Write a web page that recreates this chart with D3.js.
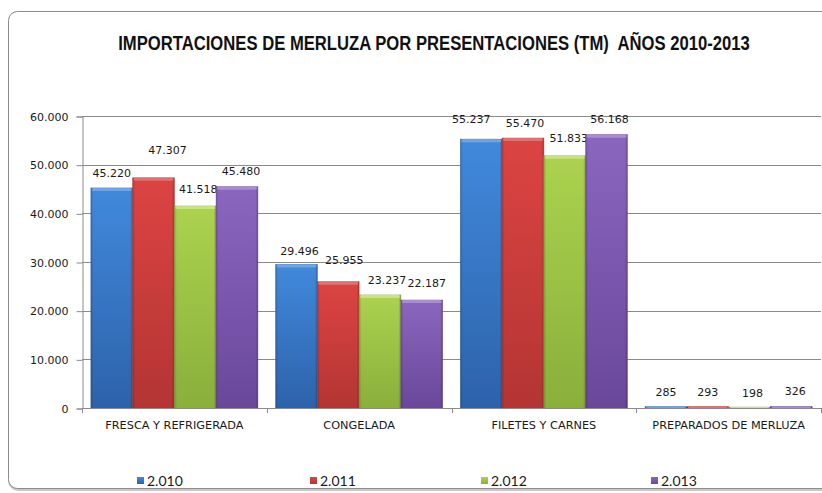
<!DOCTYPE html>
<html>
<head>
<meta charset="utf-8">
<script src="https://cdn.jsdelivr.net/npm/d3@7"></script>
<style>
  body { margin: 0; background: #fff; }
  svg { display: block; }
</style>
</head>
<body>
<svg id="chart" width="822" height="493"></svg>
<script>
let categories = ['FRESCA Y REFRIGERADA', 'CONGELADA', 'FILETES Y CARNES', 'PREPARADOS DE MERLUZA'];
let years = ['2.010', '2.011', '2.012', '2.013'];
let v2010 = [45220, 29496, 55237, 285];
let v2011 = [47307, 25955, 55470, 293];
let v2012 = [41518, 23237, 51833, 198];
let v2013 = [45480, 22187, 56168, 326];
let yTicks = [0, 10000, 20000, 30000, 40000, 50000, 60000];
let yTickLabels = ['0', '10.000', '20.000', '30.000', '40.000', '50.000', '60.000'];
let title = 'IMPORTACIONES DE MERLUZA POR PRESENTACIONES (TM)  AÑOS 2010-2013';

// label nudges [dx, lift above bar top], one per series per category
let labelNudge = [
    [[0, 15], [3, 13], [-10, 20], [0, 15]],
    [[14, 28], [6, 22], [2, 15], [0, 15]],
    [[3, 17], [7, 15], [4, 18], [3, 14]],
    [[4, 16], [5, 17], [3, 16], [4, 15]]
];

let seriesValues = [v2010, v2011, v2012, v2013];
let colorTop = ['#4189dc', '#dc4442', '#acd24f', '#8b66bf'];
let colorBottom = ['#2d62aa', '#b33534', '#8aaf3b', '#69489a'];
let colorCap = ['#6aa6ec', '#ea6e6c', '#c8e57a', '#a98bd6'];

let svg = d3.select('#chart');
let margin = {left: 82, right: 821, top: 116, bottom: 408};

let x = d3.scaleBand().domain(categories).range([margin.left, margin.right]).paddingInner(0.096).paddingOuter(0.048);
let xs = d3.scaleBand().domain(years).range([0, x.bandwidth()]);
let y = d3.scaleLinear().domain([0, 60000]).range([margin.bottom, margin.top]);

// frame
svg.append('rect')
    .attr('x', 9.5).attr('y', 12.5).attr('width', 840).attr('height', 477)
    .attr('rx', 9)
    .attr('fill', 'none').attr('stroke', '#c8c8c8').attr('stroke-width', 3);
svg.append('rect')
    .attr('x', 8.5).attr('y', 11.5).attr('width', 840).attr('height', 477)
    .attr('rx', 9)
    .attr('fill', '#fff').attr('stroke', '#8c8c8c').attr('stroke-width', 1);

// gradients
let defs = svg.append('defs');
years.forEach(function (yr, i) {
    let g = defs.append('linearGradient').attr('id', 'g' + i)
        .attr('x1', 0).attr('y1', 0).attr('x2', 0).attr('y2', 1);
    g.append('stop').attr('offset', '0%').attr('stop-color', colorTop[i]);
    g.append('stop').attr('offset', '100%').attr('stop-color', colorBottom[i]);
    let h = defs.append('linearGradient').attr('id', 'h' + i)
        .attr('x1', 0).attr('y1', 0).attr('x2', 1).attr('y2', 0);
    h.append('stop').attr('offset', '0%').attr('stop-color', '#000').attr('stop-opacity', 0.18);
    h.append('stop').attr('offset', '6%').attr('stop-color', '#000').attr('stop-opacity', 0);
    h.append('stop').attr('offset', '94%').attr('stop-color', '#000').attr('stop-opacity', 0);
    h.append('stop').attr('offset', '100%').attr('stop-color', '#000').attr('stop-opacity', 0.22);
});

// title, condensed by scaling to the reference width
let titleText = svg.append('text')
    .attr('x', 0).attr('y', 0)
    .attr('text-anchor', 'middle')
    .attr('font-family', '"Liberation Sans Narrow", "Liberation Sans", Arial, sans-serif')
    .attr('font-weight', 'bold')
    .attr('font-size', 20)
    .style('white-space', 'pre')
    .attr('fill', '#111')
    .text(title);
let tw = titleText.node().getComputedTextLength();
titleText.attr('transform', 'translate(434,50) scale(' + (632 / tw) + ',1)');

// gridlines
svg.append('g').selectAll('line').data(yTicks.slice(1)).join('line')
    .attr('x1', margin.left).attr('x2', margin.right)
    .attr('y1', d => Math.round(y(d)) + 0.5).attr('y2', d => Math.round(y(d)) + 0.5)
    .attr('stroke', '#8a8a8a').attr('stroke-width', 1);

// y axis
let yAxis = d3.axisLeft(y).tickValues(yTicks).tickSize(6).tickPadding(8)
    .tickFormat((d, i) => yTickLabels[i]);
let ya = svg.append('g').attr('transform', 'translate(' + (margin.left + 0.5) + ',0.5)').call(yAxis);
ya.select('.domain').attr('stroke', '#8a8a8a');
ya.selectAll('.tick line').attr('stroke', '#8a8a8a');
ya.selectAll('.tick text')
    .attr('font-family', '"DejaVu Sans", Verdana, sans-serif')
    .attr('font-size', 11)
    .attr('fill', '#1a1a1a');

// bars
let groups = svg.append('g').selectAll('g').data(categories).join('g')
    .attr('transform', d => 'translate(' + x(d) + ',0)');

years.forEach(function (yr, s) {
    let vals = seriesValues[s];
    groups.append('rect')
        .attr('x', xs(yr))
        .attr('y', (d, i) => y(vals[i]))
        .attr('width', xs.bandwidth())
        .attr('height', (d, i) => y(0) - y(vals[i]))
        .attr('fill', 'url(#g' + s + ')')
        .attr('stroke', colorBottom[s]).attr('stroke-opacity', 0.6).attr('stroke-width', 0.8);
    groups.append('rect')
        .attr('x', xs(yr))
        .attr('y', (d, i) => y(vals[i]))
        .attr('width', xs.bandwidth())
        .attr('height', (d, i) => y(0) - y(vals[i]))
        .attr('fill', 'url(#h' + s + ')');
    groups.append('rect')
        .attr('x', xs(yr) + 1)
        .attr('y', (d, i) => y(vals[i]))
        .attr('width', xs.bandwidth() - 2)
        .attr('height', (d, i) => Math.min(3, y(0) - y(vals[i])))
        .attr('rx', 1.5)
        .attr('fill', colorCap[s]);
    groups.append('text')
        .attr('x', (d, i) => xs(yr) + xs.bandwidth() / 2 + labelNudge[s][i][0])
        .attr('y', (d, i) => y(vals[i]) - labelNudge[s][i][1] + 4)
        .attr('text-anchor', 'middle')
        .attr('font-family', '"DejaVu Sans", Verdana, sans-serif')
        .attr('font-size', 11)
        .attr('fill', '#1a1a1a')
        .text((d, i) => d3.format(',')(vals[i]).replace(/,/g, '.'));
});

// x axis
let xAxisLine = svg.append('g');
xAxisLine.append('line')
    .attr('x1', margin.left).attr('x2', margin.right)
    .attr('y1', y(0) + 0.5).attr('y2', y(0) + 0.5)
    .attr('stroke', '#8a8a8a');
let bounds = categories.map(c => x(c) - x.step() * x.paddingInner() / 2).concat([margin.right]);
xAxisLine.selectAll('line.tk').data(bounds).join('line').attr('class', 'tk')
    .attr('x1', d => Math.round(d) + 0.5).attr('x2', d => Math.round(d) + 0.5)
    .attr('y1', y(0)).attr('y2', y(0) + 5)
    .attr('stroke', '#8a8a8a');
svg.append('g').selectAll('text').data(categories).join('text')
    .attr('x', d => x(d) + x.bandwidth() / 2)
    .attr('y', 429)
    .attr('text-anchor', 'middle')
    .attr('font-family', '"DejaVu Sans", Verdana, sans-serif')
    .attr('font-size', 11.3)
    .attr('fill', '#1a1a1a')
    .text(d => d);

// legend
let legendX = [137, 310, 481, 651];
let legend = svg.append('g').selectAll('g').data(years).join('g')
    .attr('transform', (d, i) => 'translate(' + legendX[i] + ',477)');
legend.append('rect')
    .attr('width', 7).attr('height', 7)
    .attr('fill', (d, i) => 'url(#g' + i + ')');
legend.append('text')
    .attr('x', 10).attr('y', 8.5)
    .attr('font-family', 'Lato, "Open Sans", sans-serif')
    .attr('font-size', 14)
    .attr('fill', '#1a1a1a')
    .text(d => d);
</script>
</body>
</html>
